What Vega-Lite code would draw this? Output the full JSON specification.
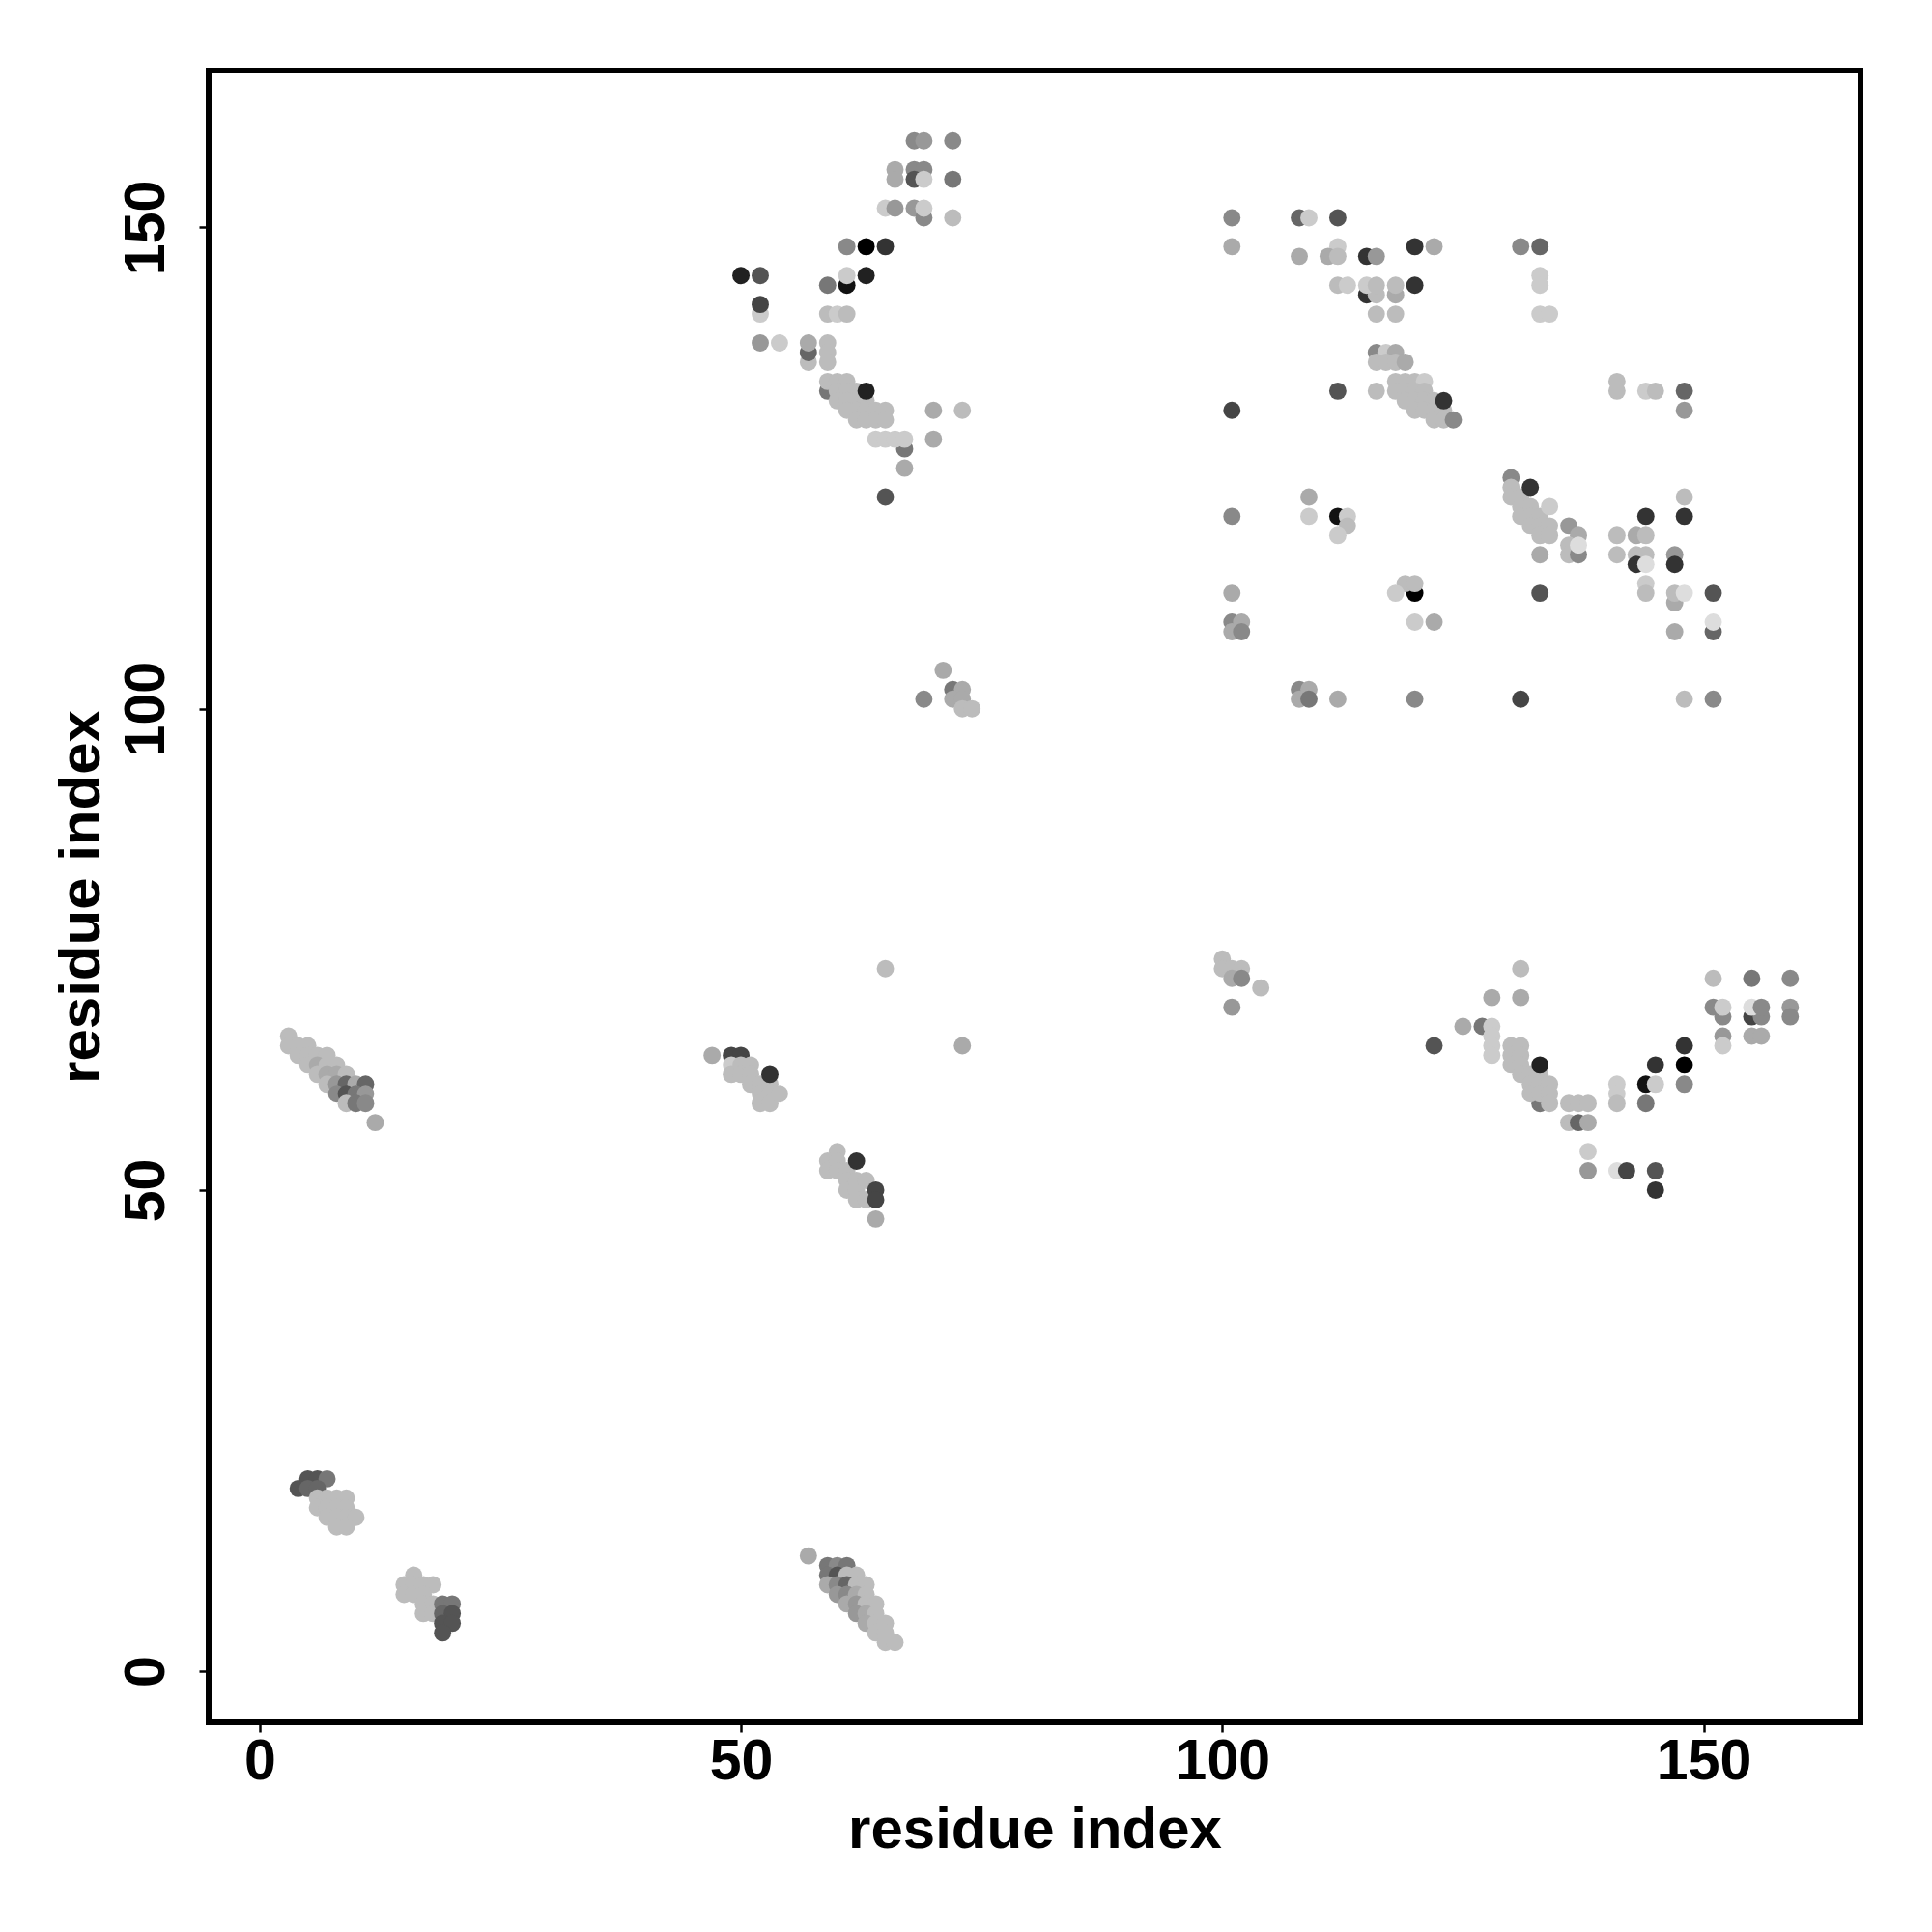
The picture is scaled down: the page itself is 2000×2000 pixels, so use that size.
{
  "$schema": "https://vega.github.io/schema/vega-lite/v6.json",
  "width": 1710,
  "height": 1710,
  "autosize": "none",
  "padding": {"left": 216, "top": 73, "right": 74, "bottom": 217},
  "background": "white",
  "data": {"values": [
    {"x":4,"y":19,"p":0.62},{"x":5,"y":20,"p":0.62},{"x":6,"y":20,"p":0.62},{"x":7,"y":20,"p":0.46},{"x":5,"y":19,"p":0.54},{"x":6,"y":19,"p":0.54},
    {"x":6,"y":18,"p":0.15},{"x":7,"y":18,"p":0.15},{"x":8,"y":18,"p":0.15},{"x":9,"y":18,"p":0.15},{"x":6,"y":17,"p":0.15},{"x":7,"y":17,"p":0.15},{"x":8,"y":17,"p":0.15},{"x":9,"y":17,"p":0.15},{"x":7,"y":16,"p":0.15},{"x":8,"y":16,"p":0.15},{"x":9,"y":16,"p":0.15},{"x":10,"y":16,"p":0.15},{"x":8,"y":15,"p":0.15},{"x":9,"y":15,"p":0.15},
    {"x":16,"y":10,"p":0.15},{"x":15,"y":9,"p":0.15},{"x":16,"y":9,"p":0.15},{"x":17,"y":9,"p":0.15},{"x":18,"y":9,"p":0.15},{"x":15,"y":8,"p":0.15},{"x":16,"y":8,"p":0.15},{"x":17,"y":8,"p":0.15},{"x":17,"y":7,"p":0.15},{"x":18,"y":7,"p":0.15},{"x":17,"y":6,"p":0.15},{"x":18,"y":6,"p":0.15},{"x":19,"y":7,"p":0.46},{"x":20,"y":7,"p":0.46},{"x":19,"y":6,"p":0.54},{"x":20,"y":6,"p":0.62},{"x":19,"y":5,"p":0.62},{"x":20,"y":5,"p":0.62},{"x":19,"y":4,"p":0.62},
    {"x":3,"y":66,"p":0.15},{"x":3,"y":65,"p":0.15},{"x":4,"y":65,"p":0.15},{"x":5,"y":65,"p":0.15},{"x":4,"y":64,"p":0.15},{"x":5,"y":64,"p":0.15},{"x":6,"y":64,"p":0.15},{"x":7,"y":64,"p":0.15},{"x":5,"y":63,"p":0.15},{"x":6,"y":63,"p":0.23},{"x":7,"y":63,"p":0.15},{"x":8,"y":63,"p":0.15},{"x":6,"y":62,"p":0.15},{"x":7,"y":62,"p":0.23},{"x":8,"y":62,"p":0.23},{"x":9,"y":62,"p":0.15},{"x":7,"y":61,"p":0.15},{"x":8,"y":61,"p":0.31},{"x":9,"y":61,"p":0.54},{"x":10,"y":61,"p":0.23},{"x":11,"y":61,"p":0.54},{"x":8,"y":60,"p":0.38},{"x":9,"y":60,"p":0.62},{"x":10,"y":60,"p":0.46},{"x":11,"y":60,"p":0.31},{"x":9,"y":59,"p":0.15},{"x":10,"y":59,"p":0.46},{"x":11,"y":59,"p":0.38},{"x":12,"y":57,"p":0.23},
    {"x":47,"y":64,"p":0.23},{"x":49,"y":64,"p":0.69},{"x":50,"y":64,"p":0.69},{"x":49,"y":63,"p":0.08},{"x":49,"y":62,"p":0.15},{"x":50,"y":63,"p":0.15},{"x":50,"y":62,"p":0.15},{"x":51,"y":63,"p":0.15},{"x":51,"y":62,"p":0.15},{"x":51,"y":61,"p":0.15},{"x":52,"y":61,"p":0.15},{"x":52,"y":60,"p":0.15},{"x":52,"y":59,"p":0.15},{"x":53,"y":61,"p":0.15},{"x":53,"y":60,"p":0.15},{"x":53,"y":59,"p":0.15},{"x":54,"y":60,"p":0.15},{"x":53,"y":62,"p":0.77},
    {"x":60,"y":54,"p":0.15},{"x":59,"y":53,"p":0.15},{"x":59,"y":52,"p":0.15},{"x":60,"y":53,"p":0.15},{"x":60,"y":52,"p":0.15},{"x":61,"y":52,"p":0.15},{"x":61,"y":51,"p":0.15},{"x":61,"y":50,"p":0.15},{"x":62,"y":51,"p":0.15},{"x":62,"y":50,"p":0.15},{"x":62,"y":49,"p":0.15},{"x":63,"y":51,"p":0.15},{"x":63,"y":49,"p":0.15},{"x":62,"y":53,"p":0.77},{"x":64,"y":50,"p":0.69},{"x":64,"y":49,"p":0.69},{"x":64,"y":47,"p":0.23},
    {"x":57,"y":12,"p":0.23},{"x":59,"y":11,"p":0.46},{"x":60,"y":11,"p":0.38},{"x":61,"y":11,"p":0.46},{"x":59,"y":10,"p":0.46},{"x":60,"y":10,"p":0.62},{"x":61,"y":10,"p":0.15},{"x":62,"y":10,"p":0.15},{"x":59,"y":9,"p":0.23},{"x":60,"y":9,"p":0.38},{"x":61,"y":9,"p":0.54},{"x":62,"y":9,"p":0.15},{"x":63,"y":9,"p":0.15},{"x":60,"y":8,"p":0.31},{"x":61,"y":8,"p":0.38},{"x":62,"y":8,"p":0.23},{"x":63,"y":8,"p":0.15},{"x":61,"y":7,"p":0.23},{"x":62,"y":7,"p":0.31},{"x":63,"y":7,"p":0.15},{"x":64,"y":7,"p":0.15},{"x":62,"y":6,"p":0.31},{"x":63,"y":6,"p":0.23},{"x":64,"y":6,"p":0.15},{"x":63,"y":5,"p":0.23},{"x":64,"y":5,"p":0.15},{"x":65,"y":5,"p":0.15},{"x":64,"y":4,"p":0.15},{"x":65,"y":4,"p":0.15},{"x":65,"y":3,"p":0.15},{"x":66,"y":3,"p":0.15},
    {"x":71,"y":104,"p":0.23},{"x":69,"y":101,"p":0.38},{"x":72,"y":102,"p":0.46},{"x":73,"y":102,"p":0.23},{"x":72,"y":101,"p":0.23},{"x":73,"y":101,"p":0.23},{"x":73,"y":100,"p":0.15},{"x":74,"y":100,"p":0.15},
    {"x":65,"y":73,"p":0.15},{"x":73,"y":65,"p":0.23},
    {"x":68,"y":159,"p":0.38},{"x":69,"y":159,"p":0.31},{"x":72,"y":159,"p":0.38},
    {"x":66,"y":156,"p":0.23},{"x":68,"y":156,"p":0.38},{"x":69,"y":156,"p":0.38},
    {"x":66,"y":155,"p":0.23},{"x":68,"y":155,"p":0.62},{"x":69,"y":155,"p":0.08},{"x":72,"y":155,"p":0.46},
    {"x":65,"y":152,"p":0.08},{"x":66,"y":152,"p":0.31},{"x":68,"y":152,"p":0.31},{"x":69,"y":151,"p":0.38},{"x":69,"y":152,"p":0.08},{"x":72,"y":151,"p":0.15},
    {"x":61,"y":148,"p":0.38},{"x":63,"y":148,"p":1.0},{"x":65,"y":148,"p":0.77},
    {"x":50,"y":145,"p":0.85},{"x":52,"y":145,"p":0.62},{"x":63,"y":145,"p":0.85},
    {"x":59,"y":144,"p":0.46},{"x":61,"y":144,"p":0.92},{"x":61,"y":145,"p":0.08},
    {"x":52,"y":141,"p":0.08},{"x":52,"y":142,"p":0.69},{"x":59,"y":141,"p":0.15},{"x":60,"y":141,"p":0.08},{"x":61,"y":141,"p":0.15},
    {"x":52,"y":138,"p":0.31},{"x":54,"y":138,"p":0.08},{"x":57,"y":136,"p":0.15},{"x":57,"y":137,"p":0.54},{"x":57,"y":138,"p":0.23},{"x":59,"y":138,"p":0.15},
    {"x":59,"y":137,"p":0.15},{"x":59,"y":136,"p":0.15},
    {"x":59,"y":133,"p":0.46},{"x":59,"y":134,"p":0.15},{"x":60,"y":134,"p":0.15},{"x":61,"y":134,"p":0.15},
    {"x":60,"y":133,"p":0.15},{"x":61,"y":133,"p":0.15},{"x":62,"y":133,"p":0.15},
    {"x":60,"y":132,"p":0.15},{"x":61,"y":132,"p":0.15},{"x":62,"y":132,"p":0.15},{"x":63,"y":132,"p":0.15},
    {"x":61,"y":131,"p":0.15},{"x":62,"y":131,"p":0.15},{"x":63,"y":131,"p":0.15},{"x":64,"y":131,"p":0.15},{"x":65,"y":131,"p":0.15},{"x":70,"y":131,"p":0.23},{"x":73,"y":131,"p":0.15},
    {"x":62,"y":130,"p":0.15},{"x":63,"y":130,"p":0.15},{"x":64,"y":130,"p":0.15},{"x":65,"y":130,"p":0.15},{"x":63,"y":133,"p":0.85},
    {"x":67,"y":127,"p":0.46},{"x":64,"y":128,"p":0.08},{"x":65,"y":128,"p":0.08},{"x":66,"y":128,"p":0.08},{"x":67,"y":128,"p":0.08},{"x":70,"y":128,"p":0.23},
    {"x":67,"y":125,"p":0.23},{"x":65,"y":122,"p":0.62},
    {"x":101,"y":151,"p":0.38},{"x":108,"y":151,"p":0.54},{"x":109,"y":151,"p":0.08},{"x":112,"y":151,"p":0.62},
    {"x":101,"y":148,"p":0.23},{"x":112,"y":148,"p":0.08},{"x":120,"y":148,"p":0.77},{"x":122,"y":148,"p":0.23},
    {"x":108,"y":147,"p":0.23},{"x":111,"y":147,"p":0.23},{"x":112,"y":147,"p":0.15},{"x":115,"y":147,"p":0.77},{"x":116,"y":147,"p":0.31},
    {"x":115,"y":143,"p":0.77},{"x":116,"y":143,"p":0.15},{"x":118,"y":143,"p":0.23},
    {"x":112,"y":144,"p":0.15},{"x":113,"y":144,"p":0.08},{"x":115,"y":144,"p":0.08},{"x":116,"y":144,"p":0.15},{"x":118,"y":144,"p":0.15},{"x":120,"y":144,"p":0.77},
    {"x":116,"y":141,"p":0.15},{"x":118,"y":141,"p":0.15},
    {"x":116,"y":137,"p":0.38},{"x":117,"y":137,"p":0.08},{"x":118,"y":137,"p":0.23},
    {"x":116,"y":136,"p":0.15},{"x":117,"y":136,"p":0.15},{"x":118,"y":136,"p":0.15},{"x":119,"y":136,"p":0.23},
    {"x":118,"y":134,"p":0.15},{"x":119,"y":134,"p":0.15},{"x":120,"y":134,"p":0.15},{"x":121,"y":134,"p":0.08},
    {"x":112,"y":133,"p":0.62},{"x":116,"y":133,"p":0.15},{"x":118,"y":133,"p":0.15},{"x":119,"y":133,"p":0.15},{"x":120,"y":133,"p":0.15},{"x":121,"y":133,"p":0.15},
    {"x":119,"y":132,"p":0.15},{"x":120,"y":132,"p":0.15},{"x":121,"y":132,"p":0.15},{"x":122,"y":132,"p":0.15},
    {"x":101,"y":131,"p":0.69},{"x":120,"y":131,"p":0.15},{"x":121,"y":131,"p":0.15},{"x":122,"y":131,"p":0.15},{"x":123,"y":131,"p":0.15},
    {"x":122,"y":130,"p":0.15},{"x":123,"y":130,"p":0.15},{"x":124,"y":130,"p":0.38},{"x":123,"y":132,"p":0.77},
    {"x":131,"y":148,"p":0.38},{"x":133,"y":148,"p":0.54},{"x":133,"y":145,"p":0.08},{"x":133,"y":144,"p":0.08},{"x":133,"y":141,"p":0.08},{"x":134,"y":141,"p":0.08},
    {"x":141,"y":134,"p":0.15},{"x":141,"y":133,"p":0.15},{"x":144,"y":133,"p":0.08},{"x":145,"y":133,"p":0.15},{"x":148,"y":133,"p":0.54},{"x":148,"y":131,"p":0.31},
    {"x":101,"y":120,"p":0.38},{"x":109,"y":122,"p":0.23},{"x":109,"y":120,"p":0.08},{"x":112,"y":120,"p":0.92},{"x":113,"y":120,"p":0.08},{"x":113,"y":119,"p":0.15},{"x":112,"y":118,"p":0.08},
    {"x":130,"y":124,"p":0.38},{"x":130,"y":123,"p":0.15},{"x":130,"y":122,"p":0.15},{"x":131,"y":122,"p":0.15},{"x":131,"y":121,"p":0.15},{"x":132,"y":121,"p":0.15},{"x":131,"y":120,"p":0.15},{"x":132,"y":120,"p":0.15},{"x":133,"y":120,"p":0.15},{"x":132,"y":119,"p":0.15},{"x":133,"y":119,"p":0.15},{"x":134,"y":119,"p":0.15},{"x":133,"y":118,"p":0.15},{"x":134,"y":118,"p":0.15},{"x":134,"y":121,"p":0.08},{"x":132,"y":123,"p":0.77},
    {"x":133,"y":116,"p":0.23},{"x":136,"y":119,"p":0.31},{"x":137,"y":118,"p":0.23},{"x":136,"y":117,"p":0.15},{"x":136,"y":116,"p":0.15},{"x":137,"y":116,"p":0.38},{"x":137,"y":117,"p":0.0},
    {"x":141,"y":118,"p":0.15},{"x":141,"y":116,"p":0.15},{"x":143,"y":118,"p":0.23},{"x":144,"y":118,"p":0.15},{"x":144,"y":120,"p":0.77},{"x":143,"y":116,"p":0.15},{"x":144,"y":116,"p":0.15},{"x":143,"y":115,"p":0.77},{"x":144,"y":115,"p":0.0},{"x":144,"y":113,"p":0.08},{"x":144,"y":112,"p":0.15},
    {"x":147,"y":116,"p":0.31},{"x":147,"y":115,"p":0.77},{"x":148,"y":122,"p":0.15},{"x":148,"y":120,"p":0.77},{"x":147,"y":111,"p":0.23},{"x":147,"y":112,"p":0.15},{"x":148,"y":112,"p":0.0},{"x":151,"y":112,"p":0.62},{"x":147,"y":108,"p":0.23},{"x":151,"y":108,"p":0.54},{"x":151,"y":109,"p":0.0},
    {"x":101,"y":112,"p":0.23},{"x":101,"y":109,"p":0.38},{"x":102,"y":109,"p":0.23},{"x":101,"y":108,"p":0.23},{"x":102,"y":108,"p":0.38},
    {"x":120,"y":112,"p":1.0},{"x":119,"y":113,"p":0.15},{"x":120,"y":113,"p":0.15},{"x":118,"y":112,"p":0.08},{"x":120,"y":109,"p":0.08},{"x":122,"y":109,"p":0.23},{"x":133,"y":112,"p":0.62},
    {"x":108,"y":102,"p":0.38},{"x":109,"y":102,"p":0.23},{"x":108,"y":101,"p":0.23},{"x":109,"y":101,"p":0.46},{"x":112,"y":101,"p":0.23},{"x":120,"y":101,"p":0.38},{"x":131,"y":101,"p":0.69},{"x":148,"y":101,"p":0.15},{"x":151,"y":101,"p":0.38},
    {"x":100,"y":74,"p":0.15},{"x":100,"y":73,"p":0.15},{"x":101,"y":73,"p":0.15},{"x":102,"y":73,"p":0.15},{"x":101,"y":72,"p":0.23},{"x":102,"y":72,"p":0.38},{"x":104,"y":71,"p":0.15},{"x":101,"y":69,"p":0.31},
    {"x":131,"y":73,"p":0.15},{"x":128,"y":70,"p":0.23},{"x":131,"y":70,"p":0.23},{"x":125,"y":67,"p":0.23},{"x":127,"y":67,"p":0.46},{"x":128,"y":67,"p":0.08},{"x":122,"y":65,"p":0.62},
    {"x":128,"y":66,"p":0.08},{"x":128,"y":65,"p":0.08},{"x":128,"y":64,"p":0.08},
    {"x":130,"y":65,"p":0.15},{"x":131,"y":65,"p":0.15},{"x":130,"y":64,"p":0.15},{"x":131,"y":64,"p":0.15},{"x":130,"y":63,"p":0.15},{"x":131,"y":63,"p":0.15},{"x":131,"y":62,"p":0.15},{"x":132,"y":62,"p":0.15},{"x":133,"y":62,"p":0.15},{"x":133,"y":59,"p":0.46},{"x":132,"y":61,"p":0.15},{"x":133,"y":61,"p":0.15},{"x":134,"y":61,"p":0.15},{"x":132,"y":60,"p":0.15},{"x":133,"y":60,"p":0.15},{"x":134,"y":60,"p":0.15},{"x":134,"y":59,"p":0.15},{"x":133,"y":63,"p":0.85},
    {"x":136,"y":59,"p":0.15},{"x":137,"y":59,"p":0.15},{"x":138,"y":59,"p":0.15},{"x":136,"y":57,"p":0.15},{"x":137,"y":57,"p":0.54},{"x":138,"y":57,"p":0.23},{"x":138,"y":54,"p":0.08},{"x":138,"y":52,"p":0.31},
    {"x":141,"y":61,"p":0.08},{"x":141,"y":60,"p":0.08},{"x":141,"y":59,"p":0.15},{"x":144,"y":61,"p":0.92},{"x":145,"y":61,"p":0.08},{"x":144,"y":59,"p":0.46},{"x":145,"y":63,"p":0.77},
    {"x":148,"y":65,"p":0.77},{"x":148,"y":63,"p":1.0},{"x":148,"y":61,"p":0.38},
    {"x":141,"y":52,"p":0.0},{"x":142,"y":52,"p":0.69},{"x":145,"y":52,"p":0.62},{"x":145,"y":50,"p":0.77},
    {"x":151,"y":72,"p":0.15},{"x":155,"y":72,"p":0.46},{"x":159,"y":72,"p":0.38},{"x":151,"y":69,"p":0.38},{"x":152,"y":68,"p":0.38},{"x":152,"y":69,"p":0.08},{"x":152,"y":66,"p":0.31},{"x":152,"y":65,"p":0.08},{"x":155,"y":68,"p":0.69},{"x":156,"y":68,"p":0.38},{"x":155,"y":69,"p":0.0},{"x":156,"y":69,"p":0.38},{"x":155,"y":66,"p":0.23},{"x":156,"y":66,"p":0.23},{"x":159,"y":69,"p":0.31},{"x":159,"y":68,"p":0.38}
  ]},
  "mark": {"type": "circle", "size": 320, "opacity": 1, "stroke": null},
  "encoding": {
    "x": {"field": "x", "type": "quantitative", "scale": {"domain": [-5.3, 166.3], "nice": false, "zero": false},
      "axis": {"title": "residue index", "values": [0, 50, 100, 150], "labelAlign": "center", "labelBaseline": "alphabetic", "labelPadding": 48, "titleX": 855, "titleY": 129, "titleAlign": "center", "titleBaseline": "alphabetic", "titleAngle": 0}},
    "y": {"field": "y", "type": "quantitative", "scale": {"domain": [-5.3, 166.3], "nice": false, "zero": false},
      "axis": {"title": "residue index", "values": [0, 50, 100, 150], "labelAngle": -90, "labelAlign": "center", "labelBaseline": "alphabetic", "labelPadding": 37, "titleX": -114, "titleY": 855, "titleAngle": -90, "titleAlign": "center", "titleBaseline": "alphabetic"}},
    "color": {"field": "p", "type": "quantitative", "scale": {"domain": [0, 1], "range": ["#dddddd", "#000000"], "interpolate": "rgb"}, "legend": null}
  },
  "config": {
    "view": {"stroke": "black", "strokeWidth": 6},
    "axis": {
      "domain": false, "grid": false, "ticks": true, "tickSize": 10, "tickWidth": 2.5, "tickColor": "black",
      "labelFont": "Liberation Sans", "labelFontWeight": "bold", "labelFontSize": 59, "labelColor": "black", "labelFlush": false, "labelOverlap": false,
      "titleFont": "Liberation Sans", "titleFontWeight": "bold", "titleFontSize": 60, "titleColor": "black"
    }
  }
}
